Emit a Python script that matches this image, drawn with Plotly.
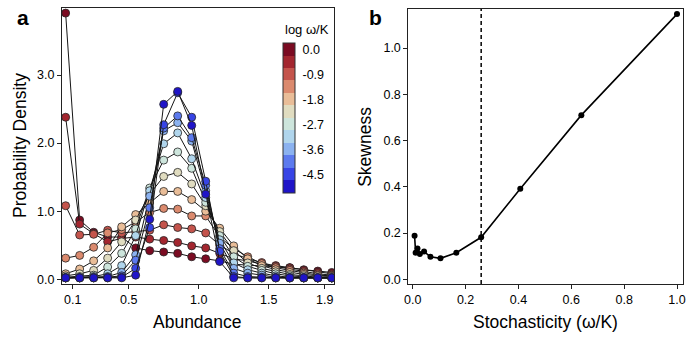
import plotly.graph_objects as go

# panel a: abundance bins (bin centres) and probability density per stochasticity level
abundance = [0.05, 0.15, 0.25, 0.35, 0.45, 0.55, 0.65, 0.75, 0.85, 0.95,
             1.05, 1.15, 1.25, 1.35, 1.45, 1.55, 1.65, 1.75, 1.85, 1.95]
log_omega = [0.0, -0.45, -0.9, -1.35, -1.8, -2.25, -2.7, -3.15, -3.6, -4.05, -4.5, -4.95]
level_colors = ["#7b0b22", "#a3262f", "#c4544c", "#db8a6e", "#e9bd98", "#e0dcc0",
                "#cde5dc", "#b0d5ec", "#8bb2f0", "#5c7aee", "#3744e5", "#1f14c8"]

dens_s0 = [3.91, 0.87, 0.69, 0.62, 0.62, 0.46, 0.42, 0.40, 0.38, 0.33,
           0.30, 0.27, 0.22, 0.21, 0.19, 0.18, 0.17, 0.14, 0.12, 0.10]
dens_s1 = [2.38, 0.81, 0.67, 0.55, 0.60, 0.62, 0.59, 0.57, 0.54, 0.49,
           0.46, 0.38, 0.30, 0.27, 0.22, 0.20, 0.17, 0.13, 0.10, 0.08]
dens_s2 = [1.08, 0.65, 0.66, 0.72, 0.68, 0.70, 0.72, 0.80, 0.76, 0.74,
           0.68, 0.50, 0.38, 0.30, 0.245, 0.19, 0.15, 0.11, 0.08, 0.06]
dens_s3 = [0.31, 0.35, 0.47, 0.68, 0.73, 0.84, 0.98, 1.04, 1.03, 0.93,
           0.93, 0.62, 0.45, 0.33, 0.23, 0.17, 0.13, 0.09, 0.06, 0.05]
dens_s4 = [0.08, 0.15, 0.27, 0.46, 0.77, 0.95, 1.12, 1.29, 1.29, 1.17,
           1.00, 0.75, 0.49, 0.30, 0.20, 0.14, 0.10, 0.07, 0.05, 0.04]
dens_s5 = [0.05, 0.08, 0.13, 0.31, 0.55, 0.87, 1.25, 1.51, 1.57, 1.40,
           1.08, 0.70, 0.42, 0.24, 0.16, 0.11, 0.07, 0.05, 0.03, 0.03]
dens_s6 = [0.03, 0.04, 0.06, 0.18, 0.38, 0.74, 1.34, 1.75, 1.87, 1.63,
           1.13, 0.64, 0.33, 0.19, 0.13, 0.08, 0.05, 0.03, 0.02, 0.02]
dens_s7 = [0.02, 0.03, 0.04, 0.08, 0.20, 0.64, 1.30, 1.99, 2.15, 1.77,
           1.20, 0.58, 0.24, 0.14, 0.09, 0.05, 0.03, 0.02, 0.02, 0.02]
dens_s8 = [0.02, 0.02, 0.03, 0.04, 0.10, 0.36, 1.22, 2.18, 2.30, 2.03,
           1.30, 0.53, 0.16, 0.09, 0.06, 0.03, 0.02, 0.02, 0.02, 0.02]
dens_s9 = [0.02, 0.02, 0.02, 0.03, 0.05, 0.28, 1.05, 2.22, 2.40, 2.08,
           1.38, 0.45, 0.09, 0.04, 0.03, 0.02, 0.02, 0.02, 0.02, 0.02]
dens_s10 = [0.02, 0.02, 0.02, 0.02, 0.03, 0.16, 0.76, 2.27, 2.74, 2.38,
            1.44, 0.41, 0.04, 0.02, 0.02, 0.02, 0.02, 0.02, 0.02, 0.02]
dens_s11 = [0.02, 0.02, 0.02, 0.02, 0.02, 0.06, 0.88, 2.57, 2.76, 2.26,
            1.25, 0.26, 0.02, 0.02, 0.02, 0.02, 0.02, 0.02, 0.02, 0.02]

# panel b: skewness against stochasticity
stochasticity = [0.007, 0.011, 0.018, 0.027, 0.043, 0.067, 0.105, 0.165, 0.259, 0.407, 0.638, 1.0]
skewness = [0.189, 0.115, 0.134, 0.110, 0.120, 0.098, 0.091, 0.115, 0.182, 0.392, 0.710, 1.147]
threshold = 0.259

cbar_ticks = [0.0, -0.9, -1.8, -2.7, -3.6, -4.5]
cbar_labels = ["0.0", "-0.9", "-1.8", "-2.7", "-3.6", "-4.5"]

FONT = "Liberation Sans, Arial, sans-serif"

densities = [dens_s0, dens_s1, dens_s2, dens_s3, dens_s4, dens_s5,
             dens_s6, dens_s7, dens_s8, dens_s9, dens_s10, dens_s11]

fig = go.Figure()

for dens, color in zip(densities, level_colors):
    fig.add_trace(go.Scatter(
        x=abundance, y=dens, mode="lines+markers",
        line={"color": "#151515", "width": 1},
        marker={"size": 8, "color": color, "line": {"color": "#262626", "width": 0.8}},
        xaxis="x", yaxis="y", showlegend=False, hoverinfo="skip",
    ))

# discrete colour bar, one band per level
n = len(level_colors)
step = 0.45
scale = []
for i, c in enumerate(reversed(level_colors)):
    scale.append([i / n, c])
    scale.append([(i + 1) / n, c])

fig.add_trace(go.Scatter(
    x=[None], y=[None], mode="markers", xaxis="x", yaxis="y", showlegend=False,
    marker={
        "color": [0], "colorscale": scale,
        "cmin": min(log_omega) - step / 2, "cmax": max(log_omega) + step / 2,
        "showscale": True,
        "colorbar": {
            "x": 0.3559, "xanchor": "left",
            "y": 0.3297, "yanchor": "bottom",
            "len": 0.5435, "lenmode": "fraction",
            "thickness": 12, "xpad": 0, "ypad": 0,
            "outlinewidth": 1, "outlinecolor": "#333333",
            "tickvals": cbar_ticks, "ticktext": cbar_labels,
            "ticks": "outside", "ticklen": 5, "tickcolor": "rgba(0,0,0,0)",
            "tickfont": {"size": 12.5, "color": "black", "family": FONT},
        },
    },
))

fig.add_trace(go.Scatter(
    x=stochasticity, y=skewness, mode="lines+markers",
    line={"color": "black", "width": 1.6},
    marker={"size": 6, "color": "black"},
    xaxis="x2", yaxis="y2", showlegend=False,
))

axis_style = dict(
    showline=True, mirror=True, linecolor="#222222", linewidth=1,
    ticks="outside", ticklen=4, tickcolor="#222222", showgrid=False, zeroline=False,
    tickfont={"size": 12.5, "color": "black", "family": FONT},
)

fig.update_layout(
    width=693, height=338,
    margin={"l": 62, "r": 10, "t": 8, "b": 54, "autoexpand": False},
    plot_bgcolor="white", paper_bgcolor="white",
    font={"family": FONT, "color": "black"},
    xaxis=dict(axis_style, domain=[0, 0.438], range=[0.024, 1.966],
               tickvals=[0.1, 0.5, 1.0, 1.5, 1.9], ticktext=["0.1", "0.5", "1.0", "1.5", "1.9"]),
    yaxis=dict(axis_style, domain=[0, 1], range=[-0.07, 3.985],
               tickvals=[0, 1, 2, 3], ticktext=["0.0", "1.0", "2.0", "3.0"]),
    xaxis2=dict(axis_style, domain=[0.5577, 1], range=[-0.0166, 1.0227], anchor="y2",
                tickvals=[0, 0.2, 0.4, 0.6, 0.8, 1.0], tickformat=".1f"),
    yaxis2=dict(axis_style, domain=[0, 0.9964], range=[-0.02, 1.169], anchor="x2",
                tickvals=[0, 0.2, 0.4, 0.6, 0.8, 1.0], tickformat=".1f"),
    shapes=[dict(type="line", xref="x2", yref="y2 domain", x0=threshold, x1=threshold,
                 y0=0, y1=1, line={"color": "black", "width": 1.5, "dash": "4px,3px"})],
)

title_font = {"size": 17.5, "family": FONT, "color": "black"}
fig.add_annotation(text="Abundance", xref="x domain", yref="y domain", x=0.5, y=0,
                   yshift=-38, showarrow=False, font=title_font, yanchor="middle")
fig.add_annotation(text="Probability Density", xref="x domain", yref="y domain", x=0, y=0.5,
                   xshift=-42, textangle=-90, showarrow=False, font=title_font,
                   xanchor="center", yanchor="middle")
fig.add_annotation(text="Stochasticity (ω/K)", xref="x2 domain", yref="y2 domain", x=0.5, y=0,
                   yshift=-38, showarrow=False, font=title_font, yanchor="middle")
fig.add_annotation(text="Skewness", xref="x2 domain", yref="y2 domain", x=0, y=0.5,
                   xshift=-43, textangle=-90, showarrow=False, font=title_font,
                   xanchor="center", yanchor="middle")
fig.add_annotation(text="log ω/K", xref="paper", yref="paper", x=0, y=1,
                   xshift=245, yshift=-21, showarrow=False, xanchor="center", yanchor="middle",
                   font={"size": 13, "family": FONT, "color": "black"})
fig.add_annotation(text="<b>a</b>", xref="paper", yref="paper", x=0, y=1,
                   xshift=-39, yshift=-9, showarrow=False, xanchor="center", yanchor="middle",
                   font={"size": 21, "family": FONT, "color": "black"})
fig.add_annotation(text="<b>b</b>", xref="x2 domain", yref="paper", x=0, y=1,
                   xshift=-33, yshift=-9, showarrow=False, xanchor="center", yanchor="middle",
                   font={"size": 21, "family": FONT, "color": "black"})

# the page's default body margin would push the figure 8px right and down
fig.write_html("out.html", config={"displayModeBar": False},
               post_script="document.body.style.margin = '0';")
